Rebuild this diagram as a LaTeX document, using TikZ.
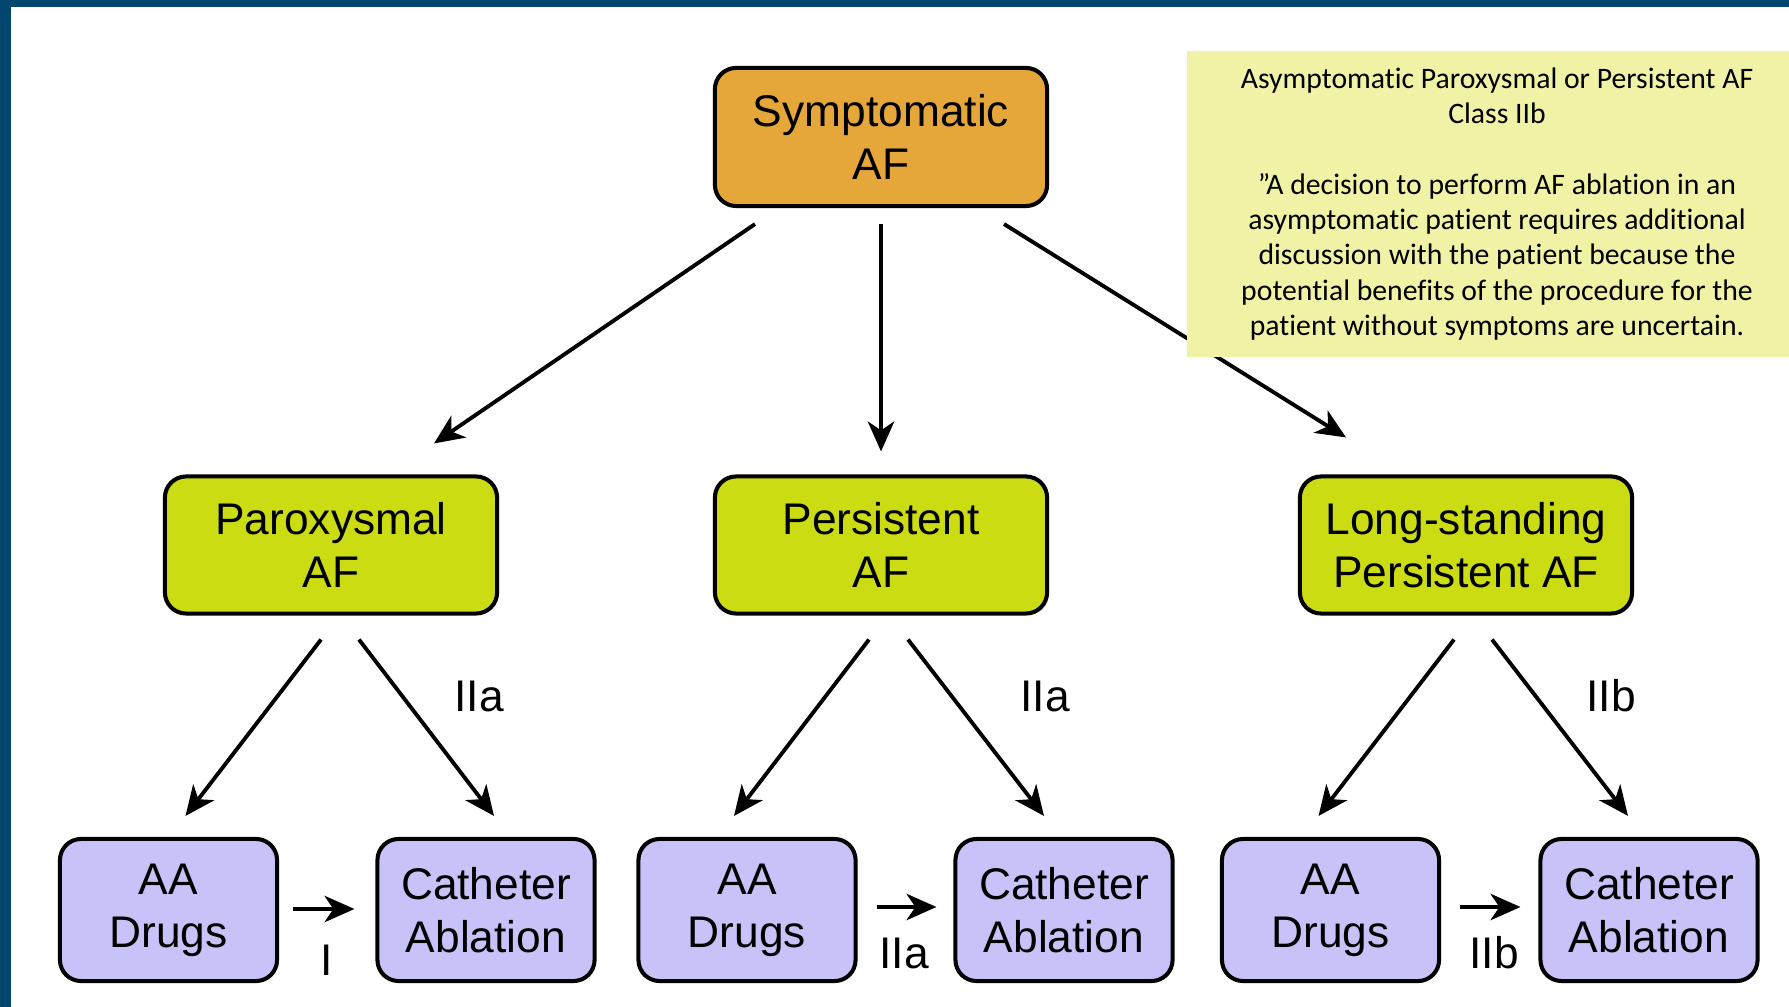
\documentclass[tikz,border=0pt]{standalone}
\usepackage{fontspec}
\setmainfont{Liberation Sans}
\newfontfamily\notefont[Ligatures=NoCommon]{Carlito}
\usetikzlibrary{arrows.meta}

\definecolor{navyband}{RGB}{0,70,110}
\definecolor{symorange}{RGB}{229,166,58}
\definecolor{typelime}{RGB}{204,220,18}
\definecolor{therapyblue}{RGB}{199,195,248}
\definecolor{noteyellow}{RGB}{240,242,166}

\begin{document}
\begin{tikzpicture}[x=0.01cm,y=-0.01cm,
    box/.style={draw=black, line width=1.15pt, rounded corners=6pt, align=center,
        inner sep=0pt, font=\fontsize{12.6}{15}\selectfont},
    topbox/.style={box, fill=symorange, minimum width=3.32cm, minimum height=1.38cm},
    midbox/.style={box, fill=typelime, minimum width=3.32cm, minimum height=1.37cm},
    lowbox/.style={box, fill=therapyblue, minimum width=2.17cm, minimum height=1.42cm},
    notebox/.style={fill=noteyellow, align=center, inner sep=0pt,
        minimum width=6.2cm, minimum height=3.06cm,
        font=\notefont\fontsize{8.45}{10.04}\selectfont},
    arr/.style={-{Stealth[length=8.5pt,width=7.5pt,inset=2.5pt]}, line width=1.1pt},
    cls/.style={inner sep=0pt, font=\fontsize{12.6}{15}\selectfont}]

\useasboundingbox (0,0) rectangle (1789,1007);

% boxes
\node[topbox] (sym) at (881,137) {Symptomatic\\AF};

\node[midbox] (par) at (331,545) {Paroxysmal\\AF};
\node[midbox] (per) at (881,545) {Persistent\\AF};
\node[midbox] (lon) at (1466,545) {Long-standing\\Persistent AF};

\node[lowbox] (aa1) at (168.5,910) {AA\\Drugs};
\node[lowbox] (cat1) at (486,910) {Catheter\\Ablation};
\node[lowbox] (aa2) at (747,910) {AA\\Drugs};
\node[lowbox] (cat2) at (1064,910) {Catheter\\Ablation};
\node[lowbox] (aa3) at (1330.5,910) {AA\\Drugs};
\node[lowbox] (cat3) at (1649,910) {Catheter\\Ablation};

% arrows
\draw[arr] ([shift={(-126,16)}]sym.south) -- ([shift={(103,-31)}]par.north);
\draw[arr] ([shift={(0,16)}]sym.south) -- ([shift={(0,-23)}]per.north);
\draw[arr] ([shift={(123,16)}]sym.south) -- ([shift={(-120,-37)}]lon.north);

\draw[arr] ([shift={(-10,24)}]par.south) -- ([shift={(17,-21)}]aa1.north);
\draw[arr] ([shift={(28,24)}]par.south) -- ([shift={(8,-21)}]cat1.north);
\draw[arr] ([shift={(-12,24)}]per.south) -- ([shift={(-13,-21)}]aa2.north);
\draw[arr] ([shift={(27,24)}]per.south) -- ([shift={(-20,-21)}]cat2.north);
\draw[arr] ([shift={(-12,24)}]lon.south) -- ([shift={(-12,-21)}]aa3.north);
\draw[arr] ([shift={(26,24)}]lon.south) -- ([shift={(-21,-21)}]cat3.north);

\draw[arr] ([shift={(14,-1)}]aa1.east) -- ([shift={(-21,-1)}]cat1.west);
\draw[arr] ([shift={(19,-3)}]aa2.east) -- ([shift={(-17,-3)}]cat2.west);
\draw[arr] ([shift={(19,-3)}]aa3.east) -- ([shift={(-18,-3)}]cat3.west);

% class labels
\node[cls] (c1) at (479,696) {IIa};
\node[cls] (c2) at (1045,696) {IIa};
\node[cls] (c3) at (1611,696) {IIb};

\node[cls] (h1) at (327,960) {I};
\node[cls] (h2) at (904,953) {IIa};
\node[cls] (h3) at (1494,953) {IIb};

% note on top
\node[notebox] (note) at (1497,204) {Asymptomatic Paroxysmal or Persistent AF\\
    Class IIb\\[10.04pt]
    ”A decision to perform AF ablation in an\\
    asymptomatic patient requires additional\\
    discussion with the patient because the\\
    potential benefits of the procedure for the\\
    patient without symptoms are uncertain.};

\fill[navyband] (0,0) rectangle (1789,7);
\fill[navyband] (0,0) rectangle (11,1007);

\end{tikzpicture}
\end{document}
